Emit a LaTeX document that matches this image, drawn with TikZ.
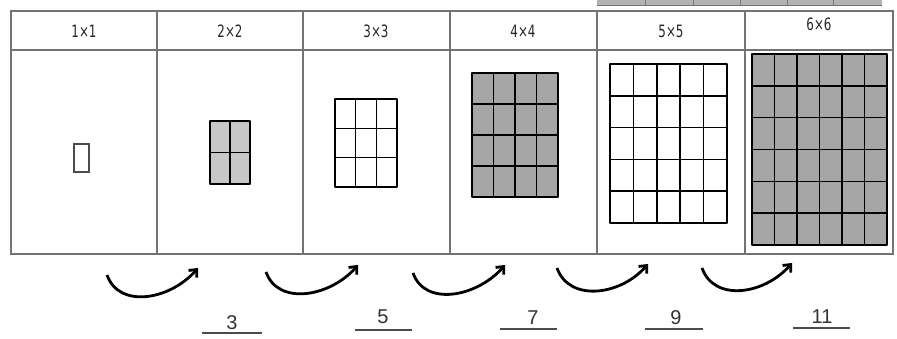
\documentclass[tikz,border=0pt]{standalone}
\usepackage{fontspec}
\setmainfont{Liberation Sans}
\newfontfamily\headfont[FakeStretch=0.7]{DejaVu Sans}
\usetikzlibrary{arrows.meta}

\begin{document}
\begin{tikzpicture}[x=1pt,y=-1pt,>={Straight Barb[length=6pt,width=11pt]},
  rule/.style={draw=black!55,line width=1.4pt},
  head/.style={font=\headfont\fontsize{17}{17}\selectfont,text=black!85},
  gridline/.style={line width=1.6pt,line join=round},
  light/.style={fill=black!22},
  shaded/.style={fill=black!35},
  turn/.style={->,line width=2.8pt},
  count/.style={font=\fontsize{20}{20}\selectfont,text=black!80,inner sep=1pt,anchor=south},
  underline/.style={draw=black!70,line width=1.4pt}]
  \useasboundingbox (0,0) rectangle (897,339);
  % strip of the next table, cut off at the top
  \fill[black!30] (597,0) rectangle (882,6);
  \foreach \x in {645,693,740,787,833} \draw[black!55] (\x,0) -- (\x,6);
  \draw[black!55,line width=1pt] (597,6) -- (882,6);
  % table
  \draw[rule] (11,11) rectangle (893,254);
  \draw[rule] (11,50) -- (893,50);
  \foreach \x in {157,303,450,597,745} \draw[rule] (\x,11) -- (\x,254);
  \node[head] (h1) at (84,31) {1×1};
  \node[head] (h2) at (230,31) {2×2};
  \node[head] (h3) at (376,31) {3×3};
  \node[head] (h4) at (523,31) {4×4};
  \node[head] (h5) at (671,31) {5×5};
  \node[head] (h6) at (819,24) {6×6};
  % squares
  \draw[black!70,line width=1.2pt] (74,144) rectangle (89,172);
  \foreach \n/\xa/\ya/\xb/\yb/\st in {2/210/121/250/184/light,3/335/99/397/187/,
    4/472/73/558/197/shaded,5/610/64/727/223/,6/752/54/887/245/shaded}{
    \draw[gridline,\st] (\xa,\ya) rectangle (\xb,\yb);
    \pgfmathtruncatemacro\m{\n-1}
    \foreach \k in {1,...,\m}{
      \draw[gridline] ({\xa+(\xb-\xa)*\k/\n},\ya) -- ({\xa+(\xb-\xa)*\k/\n},\yb);
      \draw[gridline] (\xa,{\ya+(\yb-\ya)*\k/\n}) -- (\xb,{\ya+(\yb-\ya)*\k/\n});
    }
  }
  % steps
  \foreach \i/\sx/\sy/\ex/\ey in {1/107/275/198/268,2/266/272/358/265,
    3/413/273/505/265,4/557/268/648/264,5/702/268/792/263}{
    \coordinate (s\i) at (\sx,\sy);
    \coordinate (e\i) at (\ex,\ey);
    \draw[turn] (s\i) .. controls +(12,34) and +(-28,32) .. (e\i);
  }
  \node[count] (c3) at (232,331) {3};
  \node[count] (c5) at (383,325) {5};
  \node[count] (c7) at (533,326) {7};
  \node[count] (c9) at (676,326) {9};
  \node[count] (c11) at (822,325) {11};
  \draw[underline] (202,333) -- (262,333);
  \draw[underline] (355,330) -- (412,330);
  \draw[underline] (500,329) -- (557,329);
  \draw[underline] (645,329) -- (703,329);
  \draw[underline] (793,328) -- (850,328);
\end{tikzpicture}
\end{document}
